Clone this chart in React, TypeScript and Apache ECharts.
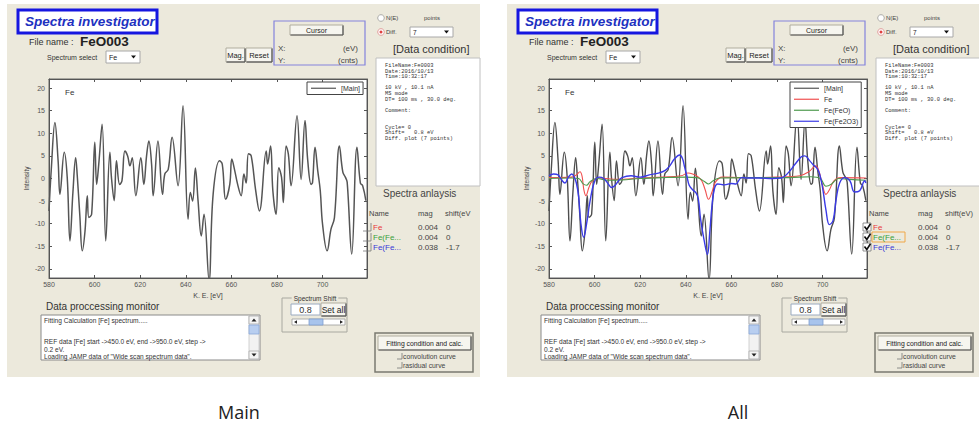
import React, { useEffect, useRef } from "react";
import * as echarts from "echarts";

// ---------- data ----------
const xTickValues = [580, 600, 620, 640, 660, 680, 700];
const yTickValues = [-20, -15, -10, -5, 0, 5, 10, 15, 20];

const mainEV = [580, 581, 582.6, 584, 584.8, 586.7, 588, 589.2, 590.5, 591.7, 592.4, 593.5, 594.6, 595.8, 596.8, 597.5, 598.7, 600.1, 600.9, 601.8, 603.3, 604.9, 606.7, 607.4, 608.6, 609.6, 611, 612, 613.3, 614.5, 615.5, 616.5, 618.1, 620.3, 621.6, 622.8, 623.8, 625, 625.7, 627.8, 629.8, 630.8, 632.3, 634, 636.6, 638.8, 641, 642, 643, 644.2, 645.4, 646.8, 648, 650.2, 652, 654.8, 656, 657.5, 659.3, 660.2, 661.5, 662.7, 664.3, 665.5, 666.5, 667.5, 668.7, 670.6, 672.3, 675.3, 675.9, 677.2, 678.2, 679.6, 680.8, 682, 682.8, 684, 685, 686.2, 688.8, 690.6, 692.3, 693.5, 695, 695.6, 696.7, 697.9, 699, 700, 702, 703.7, 705.2, 707.4, 708.9, 710, 710.8, 712.8, 715.1, 716.6, 717.6, 719];
const mainInt = [-7.2, 2, 12.4, 3.9, -3.5, 5.8, 0.2, -13.8, -3, 4.6, 0.6, -8, -16, -11.6, -3.8, -8.6, -7.9, 8, -1.3, 3, 12, -13.8, 5.8, 0.2, -4.9, 3.9, -1.3, -0.5, 6.1, 5, 2.8, 4.6, -3.8, 4.6, -1.3, 5, 8.3, 3.2, -3.8, 8.3, -3.5, 1, 2, 9.1, -1.6, 16.1, -9, -3.1, -5, 2.3, -5, -12.7, -7.9, -22.5, -3.5, 3.9, 3.2, -4.6, -1.3, 4.3, 1.7, -1.2, -3.8, 1, -1, 5.5, 5, -2.4, -7.2, 6.1, 3.2, 7.2, -2.7, -7.9, 2.4, 0.3, -5.3, 7.2, 5.4, -1.6, 13.9, -0.2, 12.8, 4, -1.3, -0.9, 6.9, 1.7, -2.7, -10.1, -16, -11.2, -8.7, 7.2, 1.4, 0.3, -0.8, -16.7, 6.9, -1, -1.6, -4.9];

const feEV = [580, 585, 590, 592, 593.6, 594.5, 595.3, 596.2, 597.5, 599, 602, 610, 620, 630, 638, 641, 643, 645, 647, 648.5, 650, 651.5, 653, 656, 665, 680, 690, 694, 697, 698.5, 700, 701.5, 703, 705, 708, 719];
const feInt = [0.2, 0.2, 0.3, 0.8, 1.5, 0.5, -2.5, -3.8, -2, -0.5, 0.1, -0.2, 0.1, 0.3, 0.6, 1.2, 1, 0.5, -0.5, -2.5, -4.6, -3, -0.8, 0.3, 0.2, 0.3, 0.6, 1.5, 2.8, 1.5, -1.5, -3.5, -2.5, -0.5, 0.2, 0.1];

const feoEV = [580, 590, 593, 595, 596.5, 598, 601, 606, 612, 620, 630, 640, 645, 648, 650, 652, 655, 670, 685, 695, 699, 701.5, 704, 707, 712, 719];
const feoInt = [0, 0.1, 0, -1.2, -1.5, -0.7, 0, -0.4, -0.3, 0, 0.2, 0.3, 0.2, -0.6, -1.2, -0.5, 0.1, 0.2, 0.2, 0.4, 0, -1.7, -1.2, 0, -0.2, -0.4];

const fe2o3EV = [580, 582, 584, 585.5, 587, 588.5, 590, 591, 592, 593, 594, 595.2, 596.5, 598, 600, 602, 604, 606, 607.5, 609, 610.5, 612, 616, 620, 624, 628, 631, 633, 635, 637.3, 638.5, 639.5, 640.5, 641.5, 643, 644.5, 645.5, 646.5, 648, 649.5, 650.5, 651.5, 652.6, 654, 657, 660, 662, 664.4, 667, 672, 678, 682, 685, 688, 690.7, 692.2, 694.4, 696, 697.5, 698.7, 700, 701.5, 703, 704.6, 706, 707.5, 709.7, 712, 714, 716.3, 718.5, 719];
const fe2o3Int = [0.6, 1, 0.8, -0.3, -1, 0.3, 1, 0.4, -1, -4, -10, -13, -10, -5, -0.6, 0.3, 0, -1.2, -2, -1.5, -0.5, 0.2, 0.6, 0.3, 0.8, 1.2, 1.8, 2.8, 4.3, 5.2, 4.5, 2.5, 0.5, -1.5, -2.5, -3.2, -4.5, -9, -13.5, -16.8, -12, -6, -2.2, -1.2, -1.4, -1.1, -1.2, 0.2, 0.1, 0.1, 0, 0.1, 1.3, 3.2, 4.8, 5, 3.9, 3, 2.3, 1, -2, -7, -10.2, -9.3, -4.5, -1, 0.2, -0.5, -3, -2.7, -0.5, -1];

const dataConditionLines = [
  "FileName:Fe0003", "Date:2016/10/13", "Time:10:32:17", "",
  "10 kV , 10.1 nA", "MS mode", "DT= 100 ms , 30.0 deg.", "",
  "Comment:", "", "",
  "Cycle= 0", "Shift=   0.8 eV", "Diff. plot (7 points)",
];
const monitorLines = [
  "Fitting Calculation [Fe] spectrum.....", "", "",
  "REF data [Fe] start ->450.0 eV, end ->950.0 eV, step ->",
  "0.2 eV.",
  "Loading JAMP data of \"Wide scan spectrum data\".",
];
const analysisNames = ["Fe", "Fe(Fe...", "Fe(Fe..."];
const analysisColors = ["#e83a3a", "#3aa03a", "#3a3ad8"];
const analysisMag = ["0.004", "0.004", "0.038"];
const analysisShift = ["0", "0", "-1.7"];
const legendAll = ["[Main]", "Fe", "Fe(FeO)", "Fe(Fe2O3)"];

// ---------- helpers ----------
const SANS = "'Liberation Sans', Arial, sans-serif";
const MONO = "'Liberation Mono', 'DejaVu Sans Mono', monospace";
const BEIGE = "#ece9dc";

const pairs = (xs: number[], ys: number[]) => xs.map((x, i) => [x, ys[i]]);

function panel(ox: number, all: boolean): any[] {
  const els: any[] = [];
  const R = (x: number, y: number, w: number, h: number, fill: string, stroke = "none", lw = 1, z = 50) =>
    els.push({ type: "rect", z, shape: { x: ox + x, y, width: w, height: h }, style: { fill, stroke, lineWidth: lw } });
  const T = (x: number, y: number, text: string, size: number, o: any = {}) =>
    els.push({
      type: "text", z: 60, x: ox + x, y,
      style: {
        text, fontSize: size, fontFamily: o.family || SANS, fontWeight: o.weight || "normal",
        fontStyle: o.style || "normal", fill: o.color || "#333",
        align: o.align || "left", textAlign: o.align || "left",
        verticalAlign: "middle", textVerticalAlign: "middle",
        backgroundColor: o.bg, padding: o.bg ? [0, 2] : 0,
      },
    });
  const L = (x1: number, y1: number, x2: number, y2: number, stroke: string, lw = 1) =>
    els.push({ type: "line", z: 55, shape: { x1: ox + x1, y1, x2: ox + x2, y2 }, style: { stroke, lineWidth: lw } });
  const P = (pts: number[][], fill: string) =>
    els.push({ type: "polygon", z: 58, shape: { points: pts.map(([a, b]) => [ox + a, b]) }, style: { fill } });
  const btn = (x: number, y: number, w: number, h: number, label: string, size: number) => {
    R(x, y, w, h, "#f6f5ef", "#b0ad9f", 1);
    L(x + 0.5, y + h, x + w, y + h, "#555", 1.2);
    L(x + w, y + 0.5, x + w, y + h, "#555", 1.2);
    T(x + w / 2, y + h / 2, label, size, { align: "center", color: "#222" });
  };
  const dd = (x: number, y: number, w: number, h: number, label: string, size: number) => {
    R(x, y, w, h, "#ffffff", "#a8a8a8", 1);
    T(x + 3, y + h / 2, label, size, { color: "#222" });
    P([[x + w - 9, y + h / 2 - 1.5], [x + w - 4, y + h / 2 - 1.5], [x + w - 6.5, y + h / 2 + 1.5]], "#111");
  };

  // background
  els.push({ type: "rect", z: -10, shape: { x: ox + 7, y: 4, width: 473, height: 373 }, style: { fill: BEIGE } });

  // title
  R(18, 10, 139, 23, "#ffffff", "#1616e0", 3);
  T(25, 21.5, "Spectra investigator", 13.5, { weight: "bold", style: "italic", color: "#2030c0" });

  // file name
  T(29, 42, "File name :", 9, { color: "#333" });
  T(80, 41.5, "FeO003", 13.5, { weight: "bold", color: "#222" });
  T(47, 57, "Spectrum select", 7, { color: "#333" });
  dd(106, 51, 34, 12, "Fe", 7);

  // Mag / Reset
  btn(226, 48, 19, 14, "Mag.", 7.5);
  btn(246, 48, 26, 14, "Reset", 7.5);

  // cursor box
  R(274, 21, 91, 44, "none", "#8484dc", 1.2);
  btn(290, 25, 53, 10, "Cursor", 7);
  T(278, 48, "X:", 8, { color: "#444" });
  T(358, 48, "(eV)", 8, { color: "#444", align: "right" });
  T(278, 60, "Y:", 8, { color: "#444" });
  T(358, 60, "(cnts)", 8, { color: "#444", align: "right" });

  // radios
  els.push({ type: "circle", z: 55, shape: { cx: ox + 381, cy: 18, r: 3.3 }, style: { fill: "#fff", stroke: "#999", lineWidth: 0.8 } });
  T(386, 18, "N(E)", 6, { color: "#444" });
  T(424, 18, "points", 6, { color: "#444" });
  els.push({ type: "circle", z: 55, shape: { cx: ox + 381, cy: 32, r: 3.3 }, style: { fill: "#fff", stroke: "#d88", lineWidth: 0.8 } });
  els.push({ type: "circle", z: 56, shape: { cx: ox + 381, cy: 32, r: 1.5 }, style: { fill: "#e04040" } });
  T(386, 32, "Diff.", 6, { color: "#444" });
  dd(410, 27, 43, 10, "7", 6.5);

  // data condition
  T(393, 49, "[Data condition]", 11, { color: "#333" });
  R(376, 58, 104, 128, "#ffffff", "#c0c0c0", 1);
  dataConditionLines.forEach((s, i) => {
    if (s) T(385, 66 + i * 5.6, s, 5.4, { family: MONO, color: "#333" });
  });

  // spectra analysis
  T(383, 193, "Spectra anlaysis", 10, { color: "#444" });
  T(369, 213, "Name", 7.5, { color: "#444" });
  T(418, 213, "mag", 7.5, { color: "#444" });
  T(445, 213, all ? "shift(eV)" : "shift(eV", 7.5, { color: "#444" });
  analysisNames.forEach((nm, i) => {
    const y = 227 + i * 10;
    if (all) {
      R(363, y - 4, 8, 8, "#ffffff", "#777", 0.8, 52);
      els.push({ type: "polyline", z: 57, shape: { points: [[ox + 364.5, y - 0.5], [ox + 366.8, y + 2.5], [ox + 370.5, y - 3.2]] }, style: { stroke: "#111", lineWidth: 1.6, fill: "none" } });
      if (i === 1) R(372, y - 5, 33, 10, "none", "#f0a848", 1, 52);
    } else {
      L(363, y + 4, 371, y + 4, "#777", 0.8);
      L(371, y - 4, 371, y + 4, "#777", 0.8);
    }
    T(373, y, nm, 8, { color: analysisColors[i] });
    T(418, y, analysisMag[i], 8, { color: "#444" });
    T(446, y, analysisShift[i], 8, { color: "#444" });
  });

  // fitting
  R(375, 333, 98, 39, "none", "#7a7a70", 1.5);
  btn(378, 336, 93, 14, "Fitting condition and calc.", 6.8);
  [["convolution curve", 356], ["rasidual curve", 365]].forEach(([s, y]: any) => {
    L(397, y + 3, 402, y + 3, "#777", 0.8);
    L(402, y - 3, 402, y + 3, "#777", 0.8);
    T(403, y, s, 6.8, { color: "#444" });
  });

  // monitor
  T(46, 306, "Data proccessing monitor", 10, { color: "#333" });
  R(41, 315, 219, 45, "#ffffff", "#8a8a8a", 1);
  monitorLines.forEach((s, i) => {
    if (s) T(44, 320 + i * 7.3, s, 6.6, { color: "#333" });
  });
  R(249, 316, 10, 43, "#f2f2f2", "#c8c8c8", 0.8);
  R(249, 316, 10, 8, "#f4f4f4", "#aaa", 0.8);
  P([[251.5, 321.5], [256.5, 321.5], [254, 318.5]], "#222");
  R(249, 325, 10, 9, "#b8cef0", "#8aa8d8", 0.8);
  R(249, 351, 10, 8, "#f4f4f4", "#aaa", 0.8);
  P([[251.5, 353.5], [256.5, 353.5], [254, 356.5]], "#222");

  // spectrum shift
  R(282, 298, 65, 34, "none", "#a8a8a0", 1);
  T(315, 298, "Spectrum Shift", 6.5, { color: "#333", align: "center", bg: BEIGE });
  R(291, 304, 29, 11, "#ffffff", "#9aaac0", 1);
  T(305.5, 309.8, "0.8", 9, { color: "#333", align: "center" });
  btn(321, 303, 25, 13, "Set all", 8.5);
  R(292, 319, 53, 6, "#ffffff", "#999", 0.8);
  R(309, 319, 14, 6, "#a8c4ec", "#7f9fd0", 0.8);
  P([[294, 322], [297, 320.2], [297, 323.8]], "#222");
  P([[343, 322], [340, 320.2], [340, 323.8]], "#222");

  // plot label
  T(65, 92, "Fe", 8, { color: "#333" });
  return els;
}

function axes(g: number) {
  const line = { show: true, onZero: false, lineStyle: { color: "#555", width: 1 } };
  const tick = (vals: number[]) => ({ show: true, inside: true, length: 3, customValues: vals, lineStyle: { color: "#555" } });
  const lbl = (vals: number[], margin: number) => ({ show: true, customValues: vals, fontSize: 7, color: "#555", margin, fontFamily: SANS });
  const x = [
    {
      type: "value", gridIndex: g, position: "bottom", min: 580, max: 719.5, splitLine: { show: false },
      axisLine: line, axisTick: tick(xTickValues), axisLabel: lbl(xTickValues, 3),
      name: "K. E. [eV]", nameLocation: "middle", nameGap: 14,
      nameTextStyle: { fontSize: 7, color: "#444", fontFamily: SANS },
    },
    {
      type: "value", gridIndex: g, position: "top", min: 580, max: 719.5, splitLine: { show: false },
      axisLine: line, axisTick: tick(xTickValues), axisLabel: { show: false },
    },
  ];
  const y = [
    {
      type: "value", gridIndex: g, position: "left", min: -22, max: 22, splitLine: { show: false },
      axisLine: line, axisTick: tick(yTickValues), axisLabel: lbl(yTickValues, 4),
      name: "Intensity", nameLocation: "middle", nameGap: 19,
      nameTextStyle: { fontSize: 6.5, color: "#444", fontFamily: SANS },
    },
    {
      type: "value", gridIndex: g, position: "right", min: -22, max: 22, splitLine: { show: false },
      axisLine: line, axisTick: tick(yTickValues), axisLabel: { show: false },
    },
  ];
  return { x, y };
}

export default function App() {
  const ref = useRef<HTMLDivElement>(null);
  useEffect(() => {
    if (!ref.current) return;
    const chart = echarts.init(ref.current, undefined, { renderer: "svg" });
    const a0 = axes(0);
    const a1 = axes(1);
    const lineSeries = (name: string, xi: number, yi: number, data: number[][], color: string, width: number, z = 3) => ({
      type: "line", name, xAxisIndex: xi, yAxisIndex: yi, data, symbol: "none", smooth: 0.4, clip: true, z,
      lineStyle: { color, width }, itemStyle: { color },
    });
    const legendBase = {
      orient: "vertical", backgroundColor: "#fff", borderColor: "#444", borderWidth: 1,
      padding: [2, 3, 2, 4], itemWidth: 25, itemHeight: 1.2, itemGap: 2.5, selectedMode: false,
      icon: "rect",
      textStyle: { fontSize: 7, color: "#333", fontFamily: SANS, lineHeight: 8.5 },
    };
    chart.setOption({
      animation: false,
      backgroundColor: "#ffffff",
      grid: [
        { left: 49, top: 79, width: 318, height: 199, show: true, backgroundColor: "#fff", borderColor: "#666", borderWidth: 1, containLabel: false },
        { left: 549, top: 79, width: 318, height: 199, show: true, backgroundColor: "#fff", borderColor: "#666", borderWidth: 1, containLabel: false },
      ],
      xAxis: [...a0.x, ...a1.x],
      yAxis: [...a0.y, ...a1.y],
      legend: [
        { ...legendBase, left: 307, top: 82, data: ["[Main]"] },
        { ...legendBase, left: 790, top: 82, data: legendAll },
      ],
      series: [
        lineSeries("[Main]", 0, 0, pairs(mainEV, mainInt), "#555555", 1.5),
        lineSeries("[Main]", 2, 2, pairs(mainEV, mainInt), "#4e4e4e", 1.4),
        lineSeries("Fe", 2, 2, pairs(feEV, feInt), "#f05050", 1.1, 4),
        lineSeries("Fe(FeO)", 2, 2, pairs(feoEV, feoInt), "#4f9a4f", 1.1, 5),
        lineSeries("Fe(Fe2O3)", 2, 2, pairs(fe2o3EV, fe2o3Int), "#3a3ae6", 1.4, 6),
      ],
      graphic: {
        elements: [
          ...panel(0, false),
          ...panel(500, true),
          {
            type: "text", z: 60, x: 239, y: 412,
            style: { text: "Main", fontSize: 18, fontFamily: "'Open Sans', sans-serif", fill: "#222", align: "center", textAlign: "center", verticalAlign: "middle", textVerticalAlign: "middle" },
          },
          {
            type: "text", z: 60, x: 738, y: 412,
            style: { text: "All", fontSize: 18, fontFamily: "'Open Sans', sans-serif", fill: "#222", align: "center", textAlign: "center", verticalAlign: "middle", textVerticalAlign: "middle" },
          },
        ],
      },
    });
    return () => chart.dispose();
  }, []);
  return <div ref={ref} style={{ position: "fixed", left: 0, top: 0, width: 979, height: 426, background: "#fff" }} />;
}
